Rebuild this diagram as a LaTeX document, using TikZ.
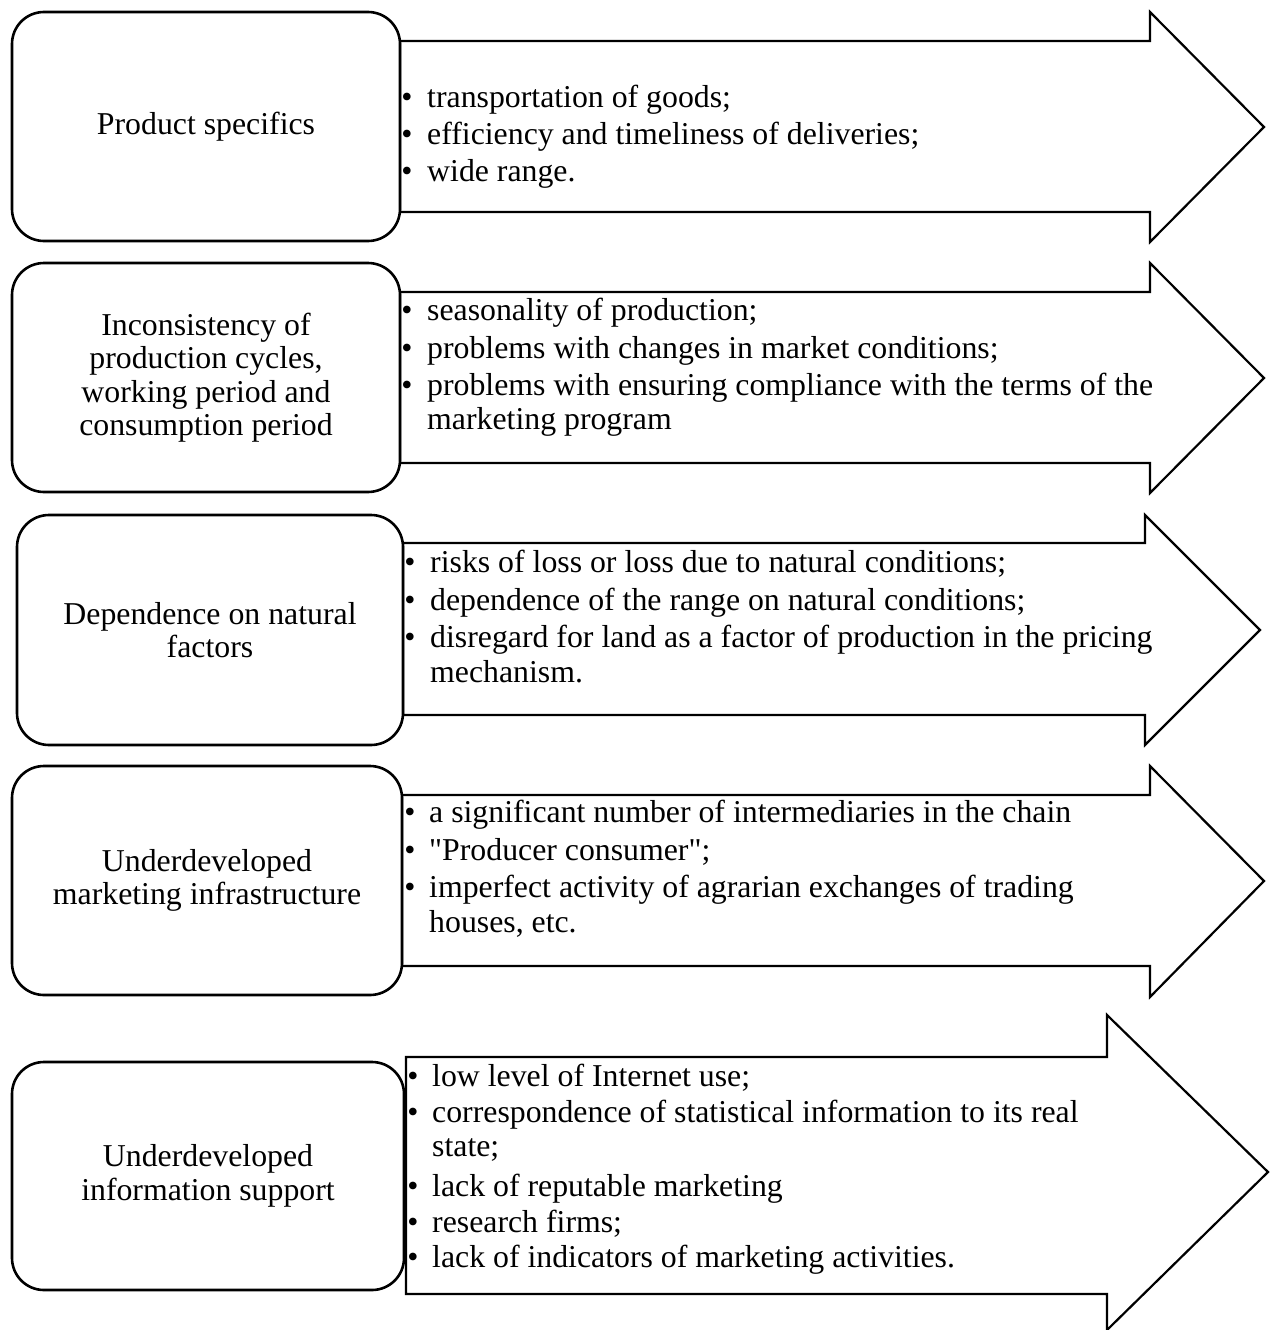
\documentclass[tikz,border=0pt]{standalone}
\usepackage{fontspec}
\setmainfont{Liberation Serif}
% same face without TeX input ligatures, so a typed " stays straight
\newfontfamily\plainserif{Liberation Serif}
\begin{document}
\begin{tikzpicture}[x=1pt,y=-1pt,
  factor/.style={draw, line width=2.6pt, rounded corners=32pt, fill=white,
    align=center, inner sep=0pt, font=\fontsize{31.8}{33.5}\selectfont},
  arrowshape/.style={draw, line width=2.2pt, fill=white, line join=miter},
  itemtxt/.style={anchor=base west, inner sep=0pt, font=\fontsize{31.8}{33.5}\selectfont},
  bul/.style={anchor=base, inner sep=0pt, font=\fontsize{31.8}{33.5}\selectfont}]
\useasboundingbox (0,0) rectangle (1273,1330);

% block arrows carrying the lists
\draw[arrowshape] (400,41) -- (1150,41) -- (1150,12) -- (1264,127) -- (1150,242) -- (1150,212) -- (400,212) -- cycle;
\draw[arrowshape] (400,292) -- (1150,292) -- (1150,263) -- (1264,378) -- (1150,493) -- (1150,463) -- (400,463) -- cycle;
\draw[arrowshape] (403,543) -- (1145,543) -- (1145,515) -- (1260,630) -- (1145,745) -- (1145,715) -- (403,715) -- cycle;
\draw[arrowshape] (402,795) -- (1150,795) -- (1150,766) -- (1264,881) -- (1150,997) -- (1150,966) -- (402,966) -- cycle;
\draw[arrowshape] (406,1057) -- (1107,1057) -- (1107,1015) -- (1268,1172) -- (1107,1330) -- (1107,1294) -- (406,1294) -- cycle;

% factor boxes
\node[factor, minimum width=388pt, minimum height=229pt] (f1) at (206,126.5) {Product specifics};
\node[factor, minimum width=388pt, minimum height=229pt] (f2) at (206,377.5) {Inconsistency of\\production cycles,\\working period and\\consumption period};
\node[factor, minimum width=386pt, minimum height=230pt] (f3) at (210,630) {Dependence on natural\\factors};
\node[factor, minimum width=390pt, minimum height=229pt] (f4) at (207,880.5) {Underdeveloped\\marketing infrastructure};
\node[factor, minimum width=392pt, minimum height=228pt] (f5) at (208,1176) {Underdeveloped\\information support};

% row 1 list
\node[bul] (b11) at (407,107) {•};
\node[itemtxt] (t11) at (427,107) {transportation of goods;};
\node[bul] (b12) at (407,144) {•};
\node[itemtxt] (t12) at (427,144) {efficiency and timeliness of deliveries;};
\node[bul] (b13) at (407,181) {•};
\node[itemtxt] (t13) at (427,181) {wide range.};

% row 2 list
\node[bul] (b21) at (407,320) {•};
\node[itemtxt] (t21) at (427,320) {seasonality of production;};
\node[bul] (b22) at (407,358) {•};
\node[itemtxt] (t22) at (427,358) {problems with changes in market conditions;};
\node[bul] (b23) at (407,395) {•};
\node[itemtxt] (t23) at (427,395) {problems with ensuring compliance with the terms of the};
\node[itemtxt] (t24) at (427,429) {marketing program};

% row 3 list
\node[bul] (b31) at (410,572) {•};
\node[itemtxt] (t31) at (430,572) {risks of loss or loss due to natural conditions;};
\node[bul] (b32) at (410,610) {•};
\node[itemtxt] (t32) at (430,610) {dependence of the range on natural conditions;};
\node[bul] (b33) at (410,647) {•};
\node[itemtxt] (t33) at (430,647) {disregard for land as a factor of production in the pricing};
\node[itemtxt] (t34) at (430,682) {mechanism.};

% row 4 list
\node[bul] (b41) at (410,822) {•};
\node[itemtxt] (t41) at (429,822) {a significant number of intermediaries in the chain};
\node[bul] (b42) at (410,860) {•};
\node[itemtxt] (t42) at (429,860) {\plainserif "Producer consumer";};
\node[bul] (b43) at (410,897) {•};
\node[itemtxt] (t43) at (429,897) {imperfect activity of agrarian exchanges of trading};
\node[itemtxt] (t44) at (429,932) {houses, etc.};

% row 5 list
\node[bul] (b51) at (413,1086) {•};
\node[itemtxt] (t51) at (432,1086) {low level of Internet use;};
\node[bul] (b52) at (413,1122) {•};
\node[itemtxt] (t52) at (432,1122) {correspondence of statistical information to its real};
\node[itemtxt] (t53) at (432,1156) {state;};
\node[bul] (b54) at (413,1196) {•};
\node[itemtxt] (t54) at (432,1196) {lack of reputable marketing};
\node[bul] (b55) at (413,1232) {•};
\node[itemtxt] (t55) at (432,1232) {research firms;};
\node[bul] (b56) at (413,1267) {•};
\node[itemtxt] (t56) at (432,1267) {lack of indicators of marketing activities.};
\end{tikzpicture}
\end{document}
